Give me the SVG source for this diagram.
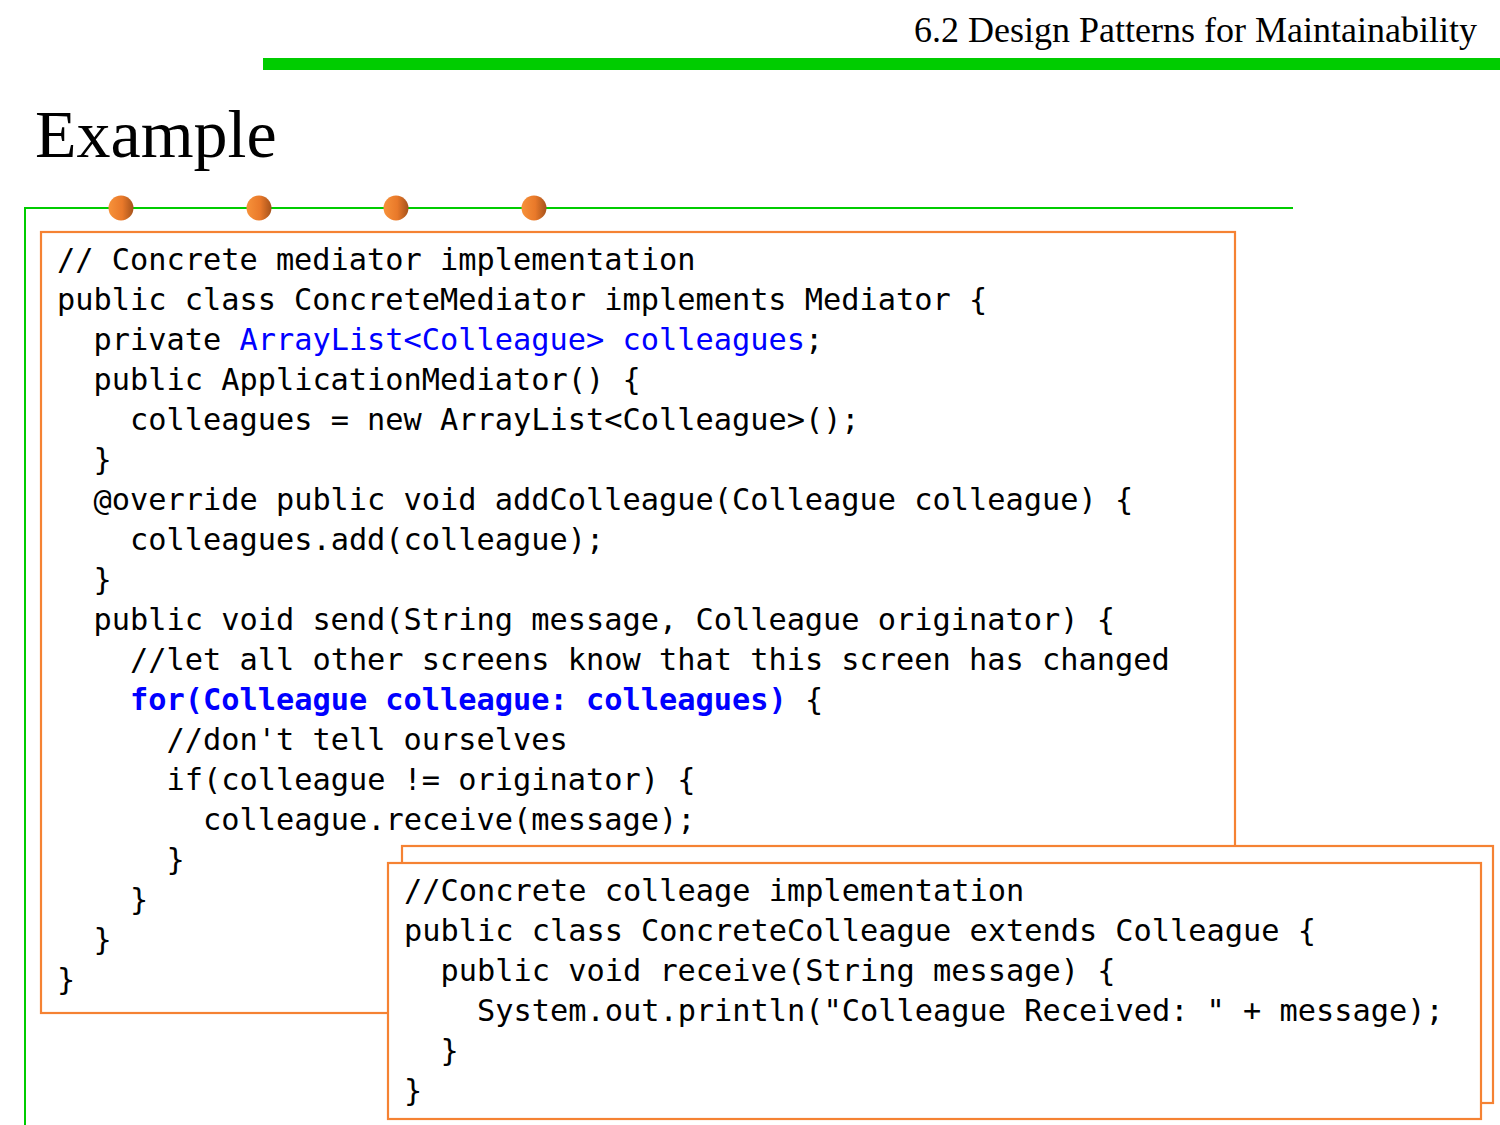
<svg xmlns="http://www.w3.org/2000/svg" width="1500" height="1125" viewBox="0 0 1500 1125">
<defs>
<linearGradient id="ball" x1="0" y1="0" x2="1" y2="0">
<stop offset="0" stop-color="#F7923A"/>
<stop offset="0.55" stop-color="#E9792A"/>
<stop offset="1" stop-color="#A5521B"/>
</linearGradient>
<style>
.serif{font-family:"Liberation Serif","Times New Roman",serif;fill:#000}
.code{font-family:"DejaVu Sans Mono","Liberation Mono",monospace;font-size:30.3px;fill:#000}
.blue{fill:#0000FF}
.b{font-weight:bold}
.box{fill:#FFFFFF;stroke:#F58233;stroke-width:2.2}
.frame{stroke:#00CC00;stroke-width:2;fill:none}
.dot{fill:url(#ball)}
</style>
</defs>
<rect width="1500" height="1125" fill="#FFFFFF"/>
<g id="header">
<text class="serif" x="1477" y="42" font-size="36" text-anchor="end">6.2 Design Patterns for Maintainability</text>
<rect x="263" y="58" width="1237" height="12" fill="#00CC00"/>
</g>
<g id="title">
<text class="serif" x="35" y="157" font-size="68">Example</text>
</g>
<g id="frame">
<polyline class="frame" points="25,1125 25,208 1293,208"/>
<circle class="dot" cx="121" cy="208" r="12.5"/>
<circle class="dot" cx="259" cy="208" r="12.5"/>
<circle class="dot" cx="396" cy="208" r="12.5"/>
<circle class="dot" cx="534" cy="208" r="12.5"/>
</g>
<g id="mediator">
<rect class="box" x="41" y="232" width="1194" height="781"/>
<text class="code" x="57" y="270">// Concrete mediator implementation</text>
<text class="code" x="57" y="310">public class ConcreteMediator implements Mediator {</text>
<text class="code" x="93.5" y="350">private <tspan class="blue">ArrayList&lt;Colleague&gt; colleagues</tspan>;</text>
<text class="code" x="93.5" y="390">public ApplicationMediator() {</text>
<text class="code" x="130" y="430">colleagues = new ArrayList&lt;Colleague&gt;();</text>
<text class="code" x="93.5" y="470">}</text>
<text class="code" x="93.5" y="510">@override public void addColleague(Colleague colleague) {</text>
<text class="code" x="130" y="550">colleagues.add(colleague);</text>
<text class="code" x="93.5" y="590">}</text>
<text class="code" x="93.5" y="630">public void send(String message, Colleague originator) {</text>
<text class="code" x="130" y="670">//let all other screens know that this screen has changed</text>
<text class="code" x="130" y="710"><tspan class="blue b">for(Colleague colleague: colleagues)</tspan> {</text>
<text class="code" x="166.5" y="750">//don't tell ourselves</text>
<text class="code" x="166.5" y="790">if(colleague != originator) {</text>
<text class="code" x="203" y="830">colleague.receive(message);</text>
<text class="code" x="166.5" y="870">}</text>
<text class="code" x="130" y="910">}</text>
<text class="code" x="93.5" y="950">}</text>
<text class="code" x="57" y="990">}</text>
</g>
<g id="colleague">
<rect class="box" x="402" y="846" width="1091" height="257"/>
<rect class="box" x="388" y="863" width="1093" height="256"/>
<text class="code" x="404" y="901">//Concrete colleage implementation</text>
<text class="code" x="404" y="941">public class ConcreteColleague extends Colleague {</text>
<text class="code" x="440.5" y="981">public void receive(String message) {</text>
<text class="code" x="477" y="1021">System.out.println("Colleague Received: " + message);</text>
<text class="code" x="440.5" y="1061">}</text>
<text class="code" x="404" y="1101">}</text>
</g>
</svg>
